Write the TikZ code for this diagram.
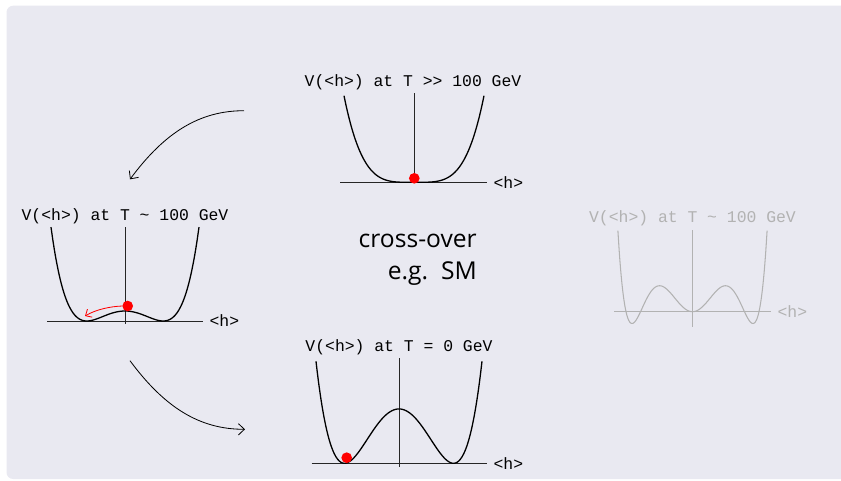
\documentclass[tikz,border=0pt]{standalone}
\usepackage{fontspec}
\setsansfont{Open Sans}
\setmonofont{Liberation Mono}
\usetikzlibrary{arrows.meta, positioning, backgrounds}
\definecolor{panelbg}{RGB}{233,233,241}
\definecolor{faded}{RGB}{178,178,178}

\begin{document}
\begin{tikzpicture}[
    x=0.3mm, y=-0.3mm,
    declare function={
        quart(\t)=\t*\t*\t*\t;
        dwell(\t,\k)=(\t*\t-1)*(\t*\t-1)*(1-\k+\k*\t*\t);
        swell(\t)=\t*\t*(0.891-1.9455*\t*\t+\t*\t*\t*\t);
    },
    plottitle/.style={font=\ttfamily\fontsize{14}{16}\selectfont, anchor=base, inner sep=0},
    hlabel/.style={font=\ttfamily\fontsize{14}{16}\selectfont, inner sep=0},
    haxis/.style={line width=0.7pt, black!85},
    potcurve/.style={line width=1.1pt, black},
    ball/.style={circle, fill=red, inner sep=0, minimum size=3.2mm},
    arrow/.style={line width=0.7pt, -{Straight Barb[length=1.8mm, width=3.4mm]}},
    rollarrow/.style={line width=0.7pt, red, -{Straight Barb[length=1.5mm, width=2.8mm]}},
    ghost/.style={faded, text=faded}
]
\useasboundingbox (0,0) rectangle (841,480);

% Panel 1: T >> 100 GeV
\node[plottitle] (title1) at (413,86.7) {V(<h>) at T >> 100 GeV};
\coordinate (ax1w) at (340,182.3);
\coordinate (ax1e) at (486.7,182.3);
\coordinate (vt1) at (414,93.3);
\coordinate (vb1) at (414,183);
\draw[haxis] (ax1w) -- (ax1e);
\draw[haxis] (vt1) -- (vb1);
\node[hlabel, right=2mm of ax1e] (h1) {<h>};
\draw[potcurve] plot[smooth, domain=-70:70, samples=81] ({414+\x},{182.3-86.6*quart(\x/70)});
\node[ball] (ball1) at (414.3,178.3) {};

% Panel 2: T ~ 100 GeV
\node[plottitle] (title2) at (125,220) {V(<h>) at T \char`\~{} 100 GeV};
\coordinate (ax2w) at (47.3,321);
\coordinate (ax2e) at (202.7,321);
\coordinate (vt2) at (125,227);
\coordinate (vb2) at (125,323.5);
\draw[haxis] (ax2w) -- (ax2e);
\draw[haxis] (vt2) -- (vb2);
\node[hlabel, right=2mm of ax2e] (h2) {<h>};
\draw[potcurve] plot[smooth, domain=-74:74, samples=81] ({125+\x},{321-10.64*dwell(\x/38.2,0.06)});
\node[ball] (ball2) at (127.7,306) {};
\coordinate (roll) at (85,316);
\draw[rollarrow] (ball2.west) .. controls (110,306.5) and (96,309.5) .. (roll);

% Panel 3: T = 0 GeV
\node[plottitle] (title3) at (399,351) {V(<h>) at T = 0 GeV};
\coordinate (ax3w) at (311.7,463.3);
\coordinate (ax3e) at (486.7,463.3);
\coordinate (vt3) at (399,358.3);
\coordinate (vb3) at (399,466.5);
\draw[haxis] (ax3w) -- (ax3e);
\draw[haxis] (vt3) -- (vb3);
\node[hlabel, right=2mm of ax3e] (h3) {<h>};
\draw[potcurve] plot[smooth, domain=-83:83, samples=101] ({399+\x},{463.3-56.2*dwell(\x/54.5,0.0325)});
\node[ball] (ball3) at (346.7,457.7) {};

% Panel 4: first order (faded)
\begin{scope}[ghost]
\node[plottitle] (title4) at (692.5,222.7) {V(<h>) at T \char`\~{} 100 GeV};
\coordinate (ax4w) at (614,311.7);
\coordinate (ax4e) at (770.7,311.7);
\coordinate (vt4) at (692.5,230);
\coordinate (vb4) at (692.5,326.7);
\draw[haxis, faded] (ax4w) -- (ax4e);
\draw[haxis, faded] (vt4) -- (vb4);
\node[hlabel, right=2mm of ax4e] (h4) {<h>};
\draw[potcurve, faded, line width=0.9pt] plot[smooth, domain=-74.6:74.6, samples=101] ({692.5+\x},{311.7-218*swell(\x/60.5)});
\end{scope}

% Text
\node[font=\sffamily\fontsize{21}{27}\selectfont, align=right, anchor=base east, inner sep=0] (xover) at (477,279) {cross-over\\e.g.~~SM};

% Arrows
\coordinate (a1s) at (244,110.7);
\coordinate (a1e) at (130,179.3);
\coordinate (a2s) at (130,360.7);
\coordinate (a2e) at (245,429.3);
\draw[arrow] (a1s) .. controls (200,110.7) and (165,132) .. (a1e);
\draw[arrow] (a2s) .. controls (165,408) and (200,429.3) .. (a2e);

% Background box
\begin{scope}[on background layer]
    \fill[panelbg, rounded corners=2mm] (6.5,5.7) rectangle (860,479);
\end{scope}

\end{tikzpicture}
\end{document}
